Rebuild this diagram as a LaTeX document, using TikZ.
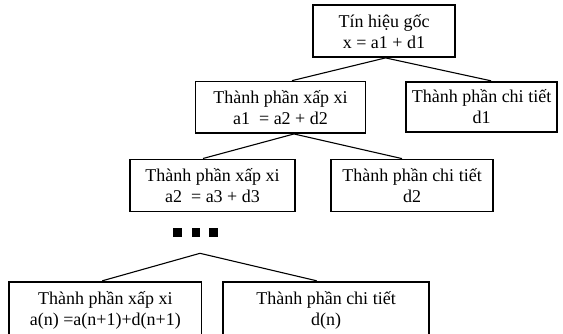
\documentclass[tikz,border=0pt]{standalone}
\usepackage{fontspec}
\setmainfont{Liberation Serif}
% two centred lines with fixed height/depth so every box places its text alike
\newcommand{\twolines}[2]{\rule{0pt}{18pt}#1\\#2\rule[-5pt]{0pt}{5pt}}
\begin{document}
\begin{tikzpicture}[x=1pt,y=-1pt,
  box/.style={draw, line width=1.8pt, rectangle, inner sep=0pt, align=center,
              font=\fontsize{18}{21}\selectfont},
  link/.style={line width=1.1pt},
  dot/.style={fill, draw=none, rectangle, inner sep=0pt, minimum size=8.3pt}]
\useasboundingbox (0,0) rectangle (563,333);

% decomposition tree
\node[box, minimum width=142pt, minimum height=52pt] (sig) at (384,31)
  {\twolines{Tín hiệu gốc}{x = a1 + d1}};
\node[box, minimum width=170pt, minimum height=51.5pt] (a1) at (280.5,107.3)
  {\twolines{Thành phần xấp xi}{a1~ = a2 + d2}};
\node[box, minimum width=150.7pt, minimum height=50pt] (d1) at (481.5,106.7)
  {\twolines{Thành phần chi tiết}{d1}};
\node[box, minimum width=165pt, minimum height=52pt] (a2) at (212.5,185.4)
  {\twolines{Thành phần xấp xi}{a2~ = a3 + d3}};
\node[box, minimum width=162pt, minimum height=52pt] (d2) at (412,185.5)
  {\twolines{Thành phần chi tiết}{d2}};
\node[box, minimum width=192.5pt, minimum height=54pt] (an) at (105.3,308.7)
  {\twolines{Thành phần xấp xi}{a(n) =a(n+1)+d(n+1)}};
\node[box, minimum width=206.6pt, minimum height=54pt] (dn) at (326,308.7)
  {\twolines{Thành phần chi tiết}{d(n)}};

% ellipsis between levels
\node[dot] (e1) at (177.5,232.5) {};
\node[dot] (e2) at (195.8,232.5) {};
\node[dot] (e3) at (213.5,232.5) {};

% branches
\draw[link] ([xshift=1.5pt]sig.south) -- ([xshift=11.5pt]a1.north);
\draw[link] ([xshift=1.5pt]sig.south) -- ([xshift=9.5pt]d1.north);
\draw[link] ([xshift=13.5pt]a1.south) -- ([xshift=-9.5pt]a2.north);
\draw[link] ([xshift=13.5pt]a1.south) -- ([xshift=-10pt]d2.north);
\coordinate (fork) at (200,253.3);
\draw[link] (fork) -- ([xshift=-3pt]an.north);
\draw[link] (fork) -- ([xshift=-9.3pt]dn.north);
\end{tikzpicture}
\end{document}
